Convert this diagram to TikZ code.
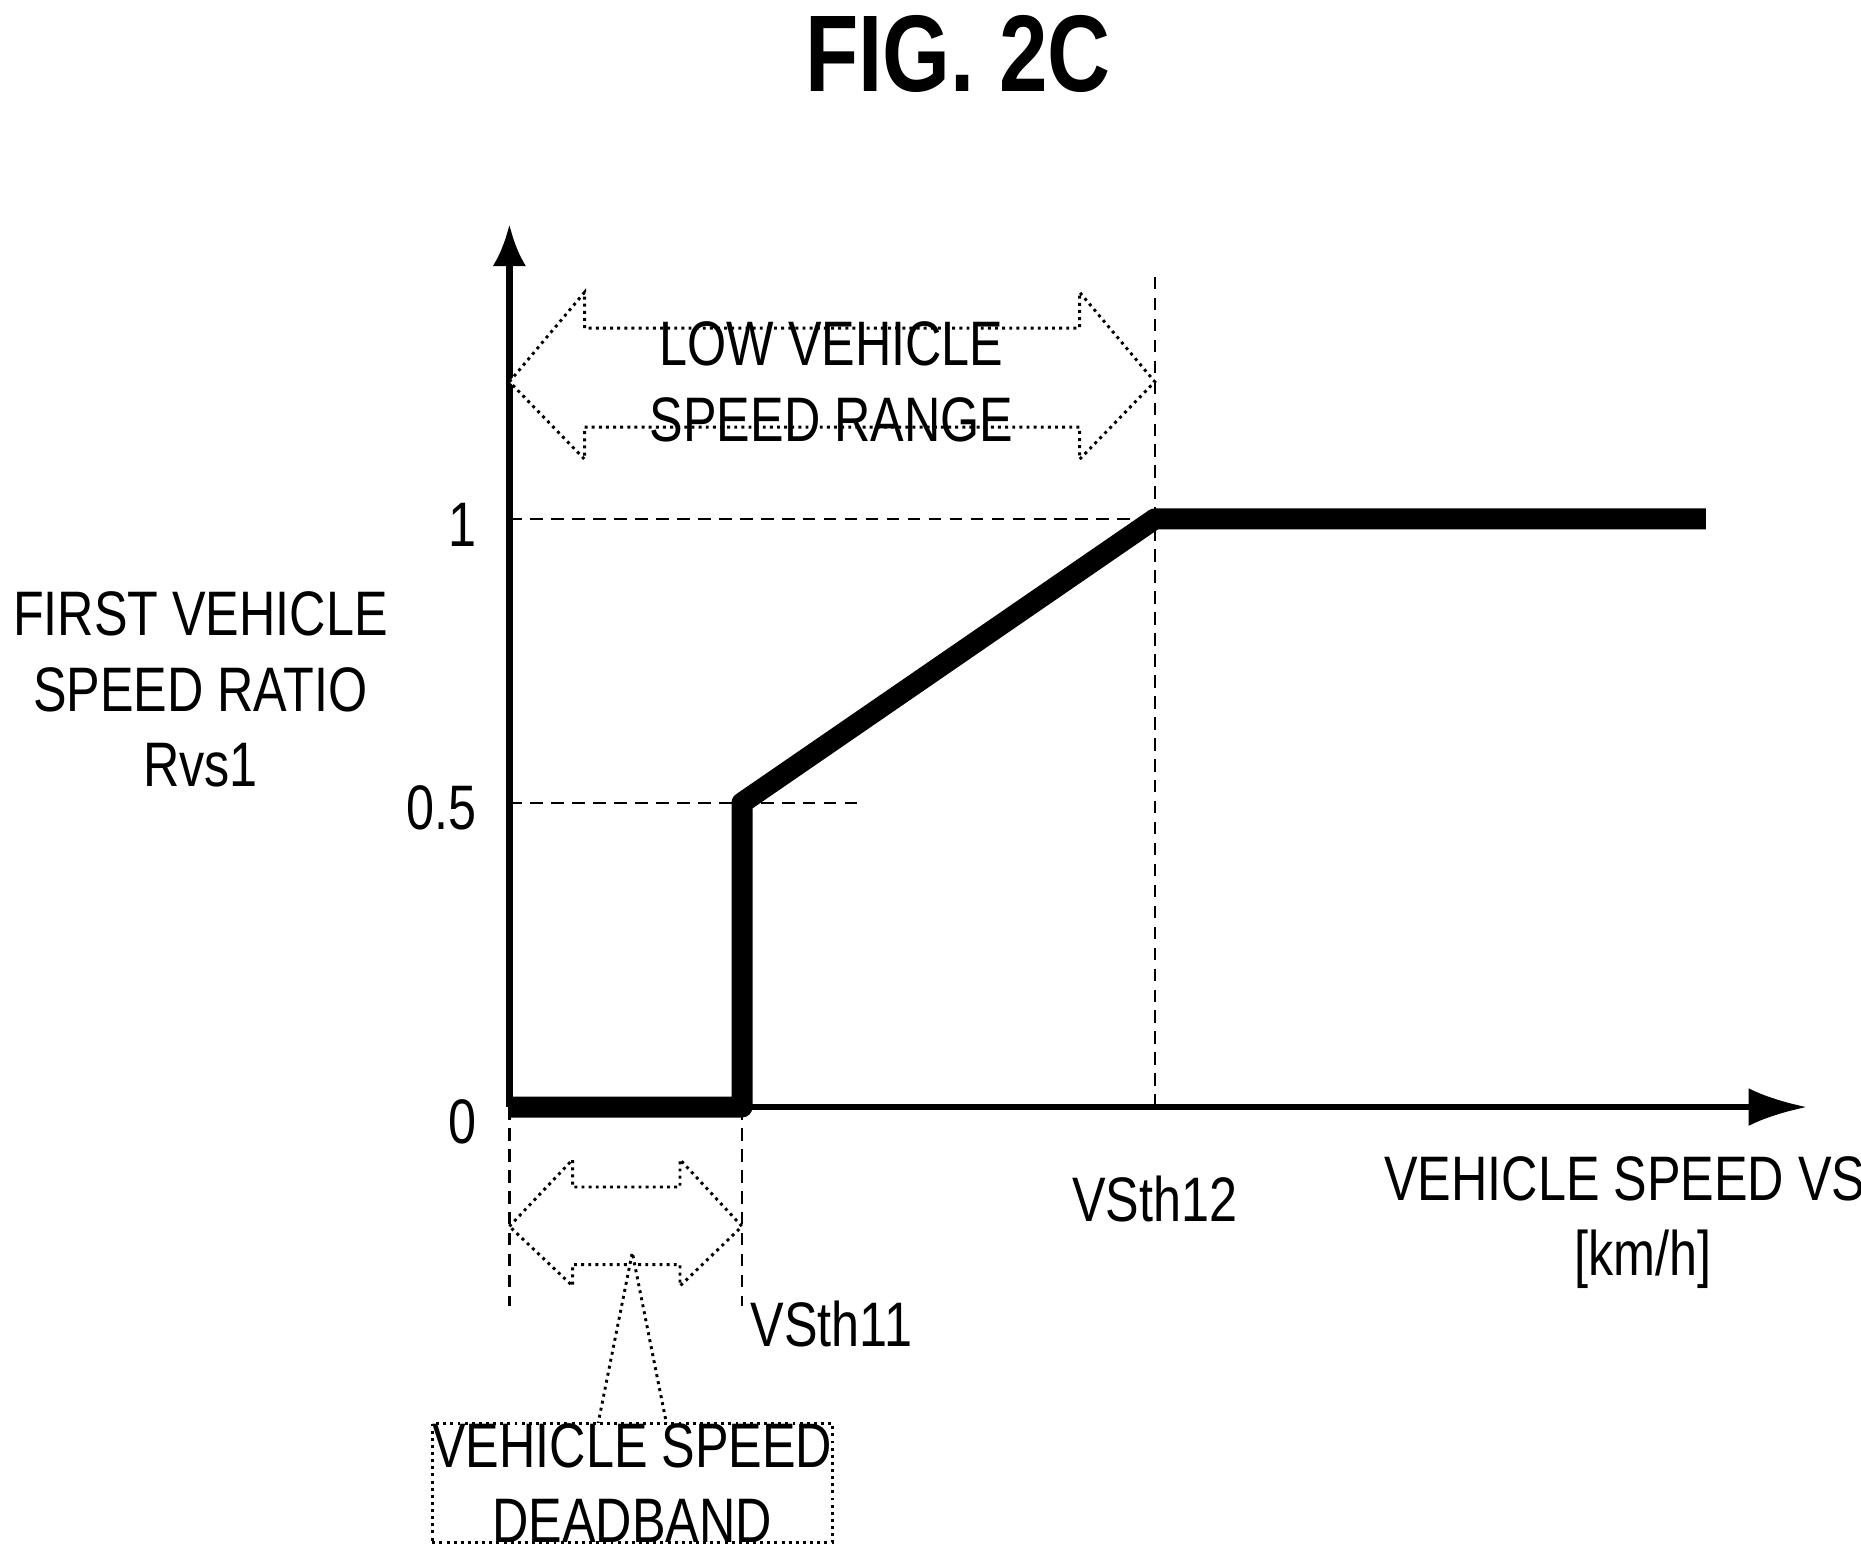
\documentclass[tikz,border=0pt]{standalone}
\usepackage{fontspec}
\setmainfont{Liberation Sans}[FakeStretch=0.8]
\usepackage{tikz}
\usetikzlibrary{arrows.meta}

\begin{document}
\begin{tikzpicture}[
	lbl/.style = {font=\fontsize{15}{18}\selectfont, align=center, inner sep=0pt},
	guide/.style = {densely dashed, line width = 0.6pt},
	block/.style = {densely dotted, line width = 0.7pt, fill=white}]
		\useasboundingbox (0,0) rectangle (15.6,-13.0);
		\node[font=\fontsize{26}{30}\selectfont\bfseries] (title) at (8.03,-0.45){FIG. 2C};
		% axes
		\coordinate (O) at (4.27,-9.28);
		\draw[-{Latex[length=10pt,width=8pt]},line width = 1.6pt] (O) -- (4.27,-1.88) coordinate (ytop);
		\draw[-{Latex[length=14pt,width=9pt]},line width = 1.6pt] (O) -- (15.15,-9.28) coordinate (xend);
		% guide lines
		\draw[guide] (4.27,-4.35) -- (9.68,-4.35);
		\draw[guide] (4.27,-6.73) -- (7.20,-6.73);
		\draw[guide] (9.68,-2.32) -- (9.68,-9.28);
		\draw[guide] (6.22,-9.28) -- (6.22,-10.95);
		\draw[guide] (4.27,-9.28) -- (4.27,-10.95);
		% curve
		\draw[line width = 5pt, line join=round] (O) -- (6.22,-9.28) -- (6.22,-6.73) -- (9.68,-4.35) -- (14.30,-4.35);
		% tick labels
		\node[lbl,anchor=east] (t1) at (4.00,-4.40){1};
		\node[lbl,anchor=east] (t05) at (4.00,-6.77){0.5};
		\node[lbl,anchor=east] (t0) at (4.00,-9.40){0};
		\node[lbl] (ylab) at (1.68,-5.78){FIRST VEHICLE\\SPEED RATIO\\Rvs1};
		\node[lbl] (vth11) at (6.97,-11.10){VSth11};
		\node[lbl] (vth12) at (9.68,-10.05){VSth12};
		\node[lbl] (xlab) at (13.62,-10.25){VEHICLE SPEED VS\\\hspace*{0.3cm}[km/h]};
		% low vehicle speed range
		\draw[block] (4.27,-3.20) -- (4.90,-2.45) -- (4.90,-2.75) -- (9.05,-2.75) -- (9.05,-2.45)
			-- (9.68,-3.20) -- (9.05,-3.85) -- (9.05,-3.58) -- (4.90,-3.58) -- (4.90,-3.85) -- cycle;
		\node[lbl] (low) at (6.97,-3.20){LOW VEHICLE\\SPEED RANGE};
		% deadband
		\draw[block] (4.27,-10.28) -- (4.80,-9.72) -- (4.80,-9.95) -- (5.70,-9.95) -- (5.70,-9.72)
			-- (6.22,-10.28) -- (5.70,-10.78) -- (5.70,-10.60) -- (4.80,-10.60) -- (4.80,-10.78) -- cycle;
		\draw[block] (5.00,-12.00) -- (5.30,-10.50) -- (5.60,-12.00);
		\node[lbl,block,draw,minimum width=3.24cm,minimum height=0.85cm] (dead) at (5.30,-12.43){VEHICLE SPEED\\DEADBAND};
\end{tikzpicture}
\end{document}
